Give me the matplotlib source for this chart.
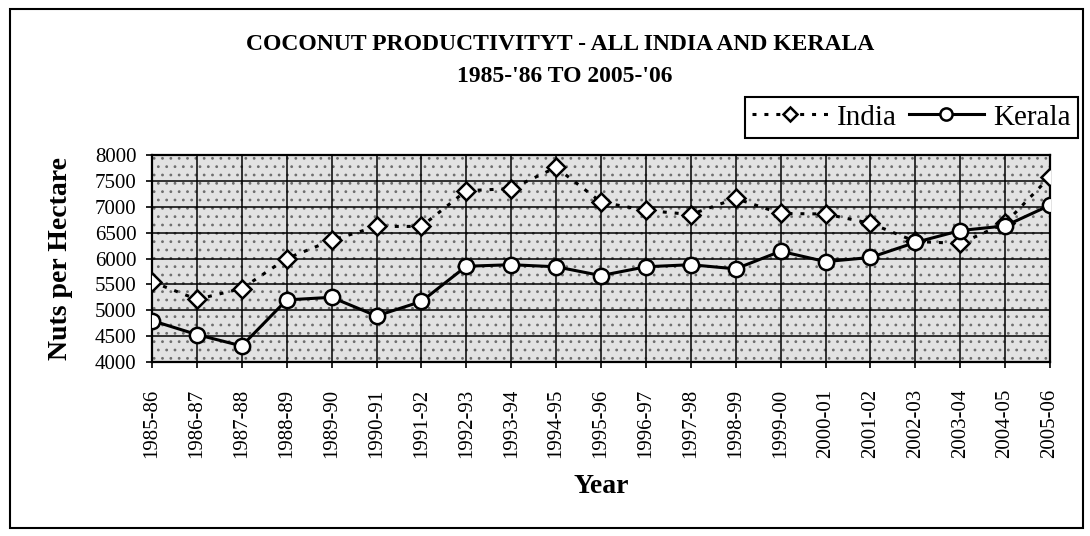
"""
Coconut productivity - All India vs Kerala, 1985-'86 to 2005-'06
"""

import matplotlib
matplotlib.use("Agg")
import matplotlib.pyplot as plt
from matplotlib.patches import Rectangle

plt.rcParams["font.family"] = ["Liberation Serif", "DejaVu Serif"]
plt.rcParams["hatch.linewidth"] = 0.8

# ---------------------------------------------------------------------------
# Data
years = ["1985-86", "1986-87", "1987-88", "1988-89", "1989-90", "1990-91",
         "1991-92", "1992-93", "1993-94", "1994-95", "1995-96", "1996-97",
         "1997-98", "1998-99", "1999-00", "2000-01", "2001-02", "2002-03",
         "2003-04", "2004-05", "2005-06"]
india = [5550, 5210, 5420, 6000, 6350, 6620, 6620, 7310, 7350, 7760, 7090,
         6930, 6850, 7160, 6870, 6860, 6680, 6330, 6290, 6680, 7580]
kerala = [4800, 4530, 4310, 5200, 5250, 4890, 5170, 5850, 5880, 5840, 5670,
          5840, 5880, 5800, 6140, 5940, 6020, 6310, 6540, 6630, 7030]
yticks = [4000, 4500, 5000, 5500, 6000, 6500, 7000, 7500, 8000]

# ---------------------------------------------------------------------------
W, H = 1090, 536
fig = plt.figure(figsize=(W / 100, H / 100), dpi=100)
fig.patch.set_facecolor("white")

# outer frame
fig.patches.append(Rectangle((10 / W, 8 / H), 1073 / W, 519 / H, transform=fig.transFigure,
                             fill=False, lw=1.5, ec="black"))

ax = fig.add_axes([152 / W, 1 - 362 / H, 898 / W, 207 / H])
ax.patch.set_facecolor("#e2e2e2")
# speckled plot-area texture
ax.add_patch(Rectangle((0, 0), 1, 1, transform=ax.transAxes, facecolor="none",
                       edgecolor="#6e6e6e", lw=0, hatch="..", zorder=0))

x = list(range(len(years)))
ax.plot(x, india, color="black", lw=2.2, linestyle=(0, (1.3, 2.6)),
        marker="D", markersize=9, markerfacecolor="white",
        markeredgecolor="black", markeredgewidth=1.8, label="India", zorder=3)
ax.plot(x, kerala, color="black", lw=2.2, linestyle="-",
        marker="o", markersize=11, markerfacecolor="white",
        markeredgecolor="black", markeredgewidth=1.8, label="Kerala", zorder=4)

ax.set_xlim(0, len(years) - 1)
ax.set_ylim(4000, 8000)
ax.set_yticks(yticks)
ax.set_xticks(x)
ax.set_xticklabels(years, rotation=90, fontsize=15)
ax.tick_params(axis="y", labelsize=15, direction="out", length=4, width=1.2, pad=7)
ax.tick_params(axis="x", direction="out", length=4, width=1.2, pad=15)
ax.grid(True, color="black", lw=1.1)
ax.set_axisbelow(True)
for s in ax.spines.values():
    s.set_linewidth(1.6)

ax.set_ylabel("Nuts per Hectare", fontsize=20, fontweight="bold", labelpad=16)
ax.set_xlabel("Year", fontsize=20, fontweight="bold", labelpad=12)

fig.text(560 / W, 1 - 44 / H, "COCONUT PRODUCTIVITYT - ALL INDIA AND KERALA",
         ha="center", va="center", fontsize=17, fontweight="bold")
fig.text(565 / W, 1 - 77 / H, "1985-'86 TO 2005-'06",
         ha="center", va="center", fontsize=17, fontweight="bold")

leg = ax.legend(loc="upper right", bbox_to_anchor=(1078 / W, 1 - 97 / H),
                bbox_transform=fig.transFigure, ncol=2, fontsize=21,
                frameon=True, fancybox=False, shadow=False, handlelength=2.6,
                markerscale=0.8, columnspacing=0.4, handletextpad=0.3,
                borderpad=0.25, borderaxespad=0, edgecolor="black", framealpha=1)
leg.get_frame().set_linewidth(1.5)

fig.savefig("out.png", dpi=100)
